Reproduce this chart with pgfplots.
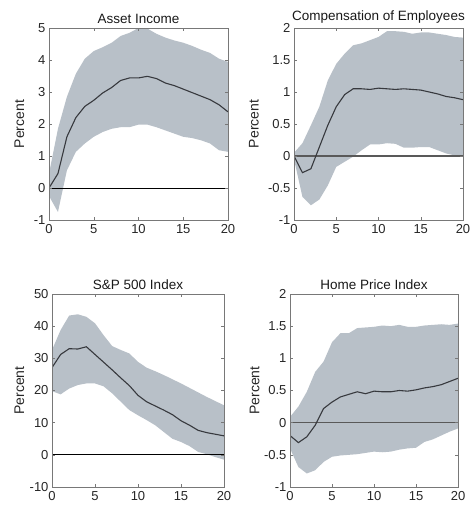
\documentclass[border=0pt]{standalone}
\usepackage{pgfplots}
\pgfplotsset{compat=1.18}
\usepgfplotslibrary{fillbetween}
\usepackage{fontspec}
\setmainfont{Liberation Sans}
\definecolor{band}{RGB}{184,192,200}
\definecolor{med}{RGB}{55,57,62}
\definecolor{frame}{RGB}{120,120,120}
\pgfplotsset{
  irf/.style={
    scale only axis,
    anchor=south west,
    xmin=0, xmax=20,
    xtick={0,5,10,15,20},
    tick align=inside,
    major tick length=3pt,
    axis line style={frame, line width=0.6pt},
    every tick/.style={frame, line width=0.5pt},
    tick label style={font=\fontsize{13}{15}\selectfont, text=black!85},
    xticklabel style={yshift=-1pt},
    /pgf/number format/assume math mode=true,
    ylabel={Percent},
    every axis y label/.style={rotate=90, anchor=center, font=\fontsize{14}{16}\selectfont, text=black!85},
    title style={font=\fontsize{13.5}{16}\selectfont, yshift=-5pt, text=black!90},
    axis on top,
  },
  ylab/.style={every axis y label/.append style={at={(axis description cs:#1,0.5)}}},
  bandline/.style={draw=none, forget plot},
  medline/.style={med, line width=1.1pt, no marks},
}
\pgfplotstableread{
x med up lo
0 0 0.45 -0.25
1 0.45 1.85 -0.75
2 1.6 2.85 0.55
3 2.2 3.57 1.13
4 2.55 4.04 1.39
5 2.74 4.28 1.6
6 2.97 4.4 1.75
7 3.14 4.54 1.85
8 3.36 4.75 1.9
9 3.44 4.85 1.9
10 3.44 5.0 1.98
11 3.49 4.98 1.98
12 3.42 4.82 1.9
13 3.28 4.7 1.8
14 3.2 4.61 1.7
15 3.09 4.54 1.6
16 2.98 4.44 1.56
17 2.87 4.32 1.49
18 2.76 4.22 1.39
19 2.6 4.04 1.18
20 2.38 3.94 1.13
}\tabA
\pgfplotstableread{
x med up lo
0 0 0.05 -0.05
1 -0.26 0.2 -0.64
2 -0.2 0.48 -0.77
3 0.14 0.77 -0.68
4 0.48 1.18 -0.46
5 0.77 1.44 -0.17
6 0.96 1.6 -0.09
7 1.05 1.73 -0.01
8 1.05 1.76 0.09
9 1.04 1.81 0.18
10 1.06 1.86 0.18
11 1.05 1.95 0.2
12 1.04 1.95 0.19
13 1.05 1.94 0.13
14 1.04 1.91 0.13
15 1.03 1.93 0.14
16 1.0 1.93 0.14
17 0.97 1.91 0.09
18 0.93 1.89 0.04
19 0.91 1.86 0.01
20 0.88 1.85 0.0
}\tabB
\pgfplotstableread{
x med up lo
0 27.1 32.6 19.8
1 31.2 38.8 18.8
2 33.0 43.3 20.6
3 32.9 43.7 21.7
4 33.6 42.9 22.2
5 31.2 40.9 22.2
6 28.8 37.2 21.3
7 26.4 33.8 19.1
8 23.9 32.6 16.5
9 21.5 31.5 13.9
10 18.5 28.9 12.3
11 16.5 27.1 10.8
12 15.2 26.0 9.2
13 13.9 24.8 7.1
14 12.5 23.5 5.0
15 10.6 22.2 4.0
16 9.2 20.8 2.7
17 7.6 19.4 0.9
18 6.9 18.0 0.2
19 6.4 16.7 -0.7
20 5.9 15.4 -1.5
}\tabC
\pgfplotstableread{
x med up lo
0 -0.2 0.09 -0.4
1 -0.31 0.25 -0.69
2 -0.22 0.48 -0.79
3 -0.04 0.79 -0.74
4 0.22 0.95 -0.61
5 0.32 1.25 -0.53
6 0.4 1.39 -0.51
7 0.44 1.39 -0.5
8 0.48 1.47 -0.49
9 0.45 1.48 -0.47
10 0.49 1.49 -0.45
11 0.48 1.51 -0.46
12 0.48 1.5 -0.45
13 0.5 1.52 -0.42
14 0.49 1.49 -0.4
15 0.51 1.49 -0.39
16 0.54 1.51 -0.3
17 0.56 1.52 -0.26
18 0.59 1.53 -0.2
19 0.64 1.52 -0.14
20 0.69 1.54 -0.09
}\tabD
\begin{document}
\begin{tikzpicture}
% Panel 1
\begin{axis}[irf, ylab=-0.165, at={(49pt,289pt)}, width=179pt, height=192pt,
  ymin=-1, ymax=5, ytick={-1,0,...,5}, title={Asset Income}]
\addplot[bandline, name path=up] table[x=x,y=up]{\tabA};
\addplot[bandline, name path=lo] table[x=x,y=lo]{\tabA};
\addplot[band, forget plot] fill between[of=up and lo];
\addplot[black, line width=0.9pt, forget plot] coordinates {(0,0) (20,0)};
\addplot[medline] table[x=x,y=med]{\tabA};
\end{axis}
% Panel 2
\begin{axis}[irf, ylab=-0.237, at={(294pt,289pt)}, width=169pt, height=192pt,
  ymin=-1, ymax=2, ytick={-1,-0.5,0,0.5,1,1.5,2}, title={Compensation of Employees}]
\addplot[bandline, name path=up] table[x=x,y=up]{\tabB};
\addplot[bandline, name path=lo] table[x=x,y=lo]{\tabB};
\addplot[band, forget plot] fill between[of=up and lo];
\addplot[black!65, line width=1.2pt, forget plot] coordinates {(0,0) (20,0)};
\addplot[medline] table[x=x,y=med]{\tabB};
\end{axis}
% Panel 3
\begin{axis}[irf, ylab=-0.19, at={(52pt,22pt)}, width=172pt, height=193pt,
  ymin=-10, ymax=50, ytick={-10,0,...,50}, title={S\&P 500 Index}]
\addplot[bandline, name path=up] table[x=x,y=up]{\tabC};
\addplot[bandline, name path=lo] table[x=x,y=lo]{\tabC};
\addplot[band, forget plot] fill between[of=up and lo];
\addplot[black, line width=0.9pt, forget plot] coordinates {(0,0) (20,0)};
\addplot[medline] table[x=x,y=med]{\tabC};
\end{axis}
% Panel 4
\begin{axis}[irf, ylab=-0.211, at={(290pt,22pt)}, width=168pt, height=193pt,
  ymin=-1, ymax=2, ytick={-1,-0.5,0,0.5,1,1.5,2}, title={Home Price Index}]
\addplot[bandline, name path=up] table[x=x,y=up]{\tabD};
\addplot[bandline, name path=lo] table[x=x,y=lo]{\tabD};
\addplot[band, forget plot] fill between[of=up and lo];
\addplot[black!65, line width=1.2pt, forget plot] coordinates {(0,0) (20,0)};
\addplot[medline] table[x=x,y=med]{\tabD};
\end{axis}
\pgfresetboundingbox
\path[use as bounding box] (0pt,0pt) rectangle (470pt,509pt);
\end{tikzpicture}
\end{document}
